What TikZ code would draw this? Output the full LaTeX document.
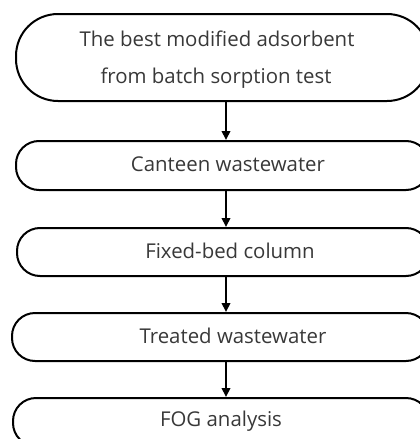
\documentclass[tikz,border=0pt]{standalone}
\usepackage{fontspec}
\setmainfont{Open Sans}
\usetikzlibrary{arrows.meta,calc}
\definecolor{txt}{HTML}{383838}
\tikzset{
  x=1pt,y=-1pt,
  flowbox/.style={draw=black, line width=2pt, rounded corners=#1, inner sep=0pt, anchor=north west},
  flowtxt/.style={text=txt, font=\fontsize{20.4}{24}\selectfont, inner sep=0pt},
  flowarrow/.style={line width=2pt, -{Triangle[length=9pt,width=8.5pt]}}
}
\begin{document}
\begin{tikzpicture}
\useasboundingbox (0,0) rectangle (420,439);
\clip (0,0) rectangle (420,439);
% boxes
\node[flowbox=42pt, minimum width=413pt, minimum height=87pt] (b1) at (15,13) {};
\node[flowbox=23pt, minimum width=413pt, minimum height=49pt] (b2) at (15,140) {};
\node[flowbox=23pt, minimum width=412pt, minimum height=48pt] (b3) at (16,227) {};
\node[flowbox=23pt, minimum width=417pt, minimum height=48pt] (b4) at (11,312) {};
\node[flowbox=23pt, minimum width=416pt, minimum height=48pt] (b5) at (12,397) {};
% texts
\node[flowtxt] (t1a) at (217,39) {The best modified adsorbent};
\node[flowtxt] (t1b) at (216,78) {from batch sorption test};
\node[flowtxt] (t2) at (228,164) {Canteen wastewater};
\node[flowtxt] (t3) at (230,251) {Fixed-bed column};
\node[flowtxt] (t4) at (233,336) {Treated wastewater};
\node[flowtxt] (t5) at (221,421) {FOG analysis};
% arrows
\coordinate (ax) at (226,0);
\draw[flowarrow] (b1.south -| ax) -- (b2.north -| ax);
\draw[flowarrow] (b2.south -| ax) -- (b3.north -| ax);
\draw[flowarrow] (b3.south -| ax) -- (b4.north -| ax);
\draw[flowarrow] (b4.south -| ax) -- (b5.north -| ax);
\end{tikzpicture}
\end{document}
